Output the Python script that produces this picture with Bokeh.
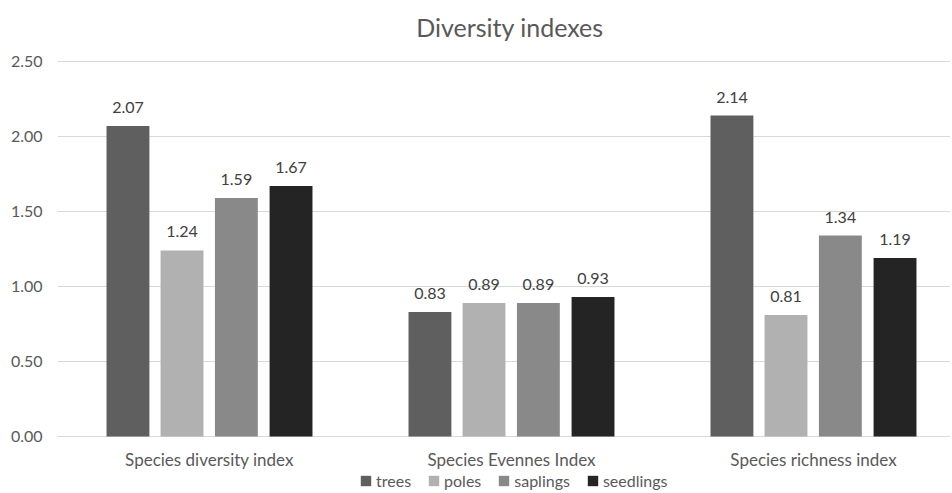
from bokeh.plotting import figure
from bokeh.models import (ColumnDataSource, Range1d, FixedTicker, Legend, LegendItem,
                          LabelSet, Label, NumeralTickFormatter)
from bokeh.core.properties import value
from bokeh.embed import file_html
from bokeh.resources import INLINE

# ---- data ----
categories = ["Species diversity index", "Species Evennes Index", "Species richness index"]
series = ["trees", "poles", "saplings", "seedlings"]
trees = [2.07, 0.83, 2.14]
poles = [1.24, 0.89, 0.81]
saplings = [1.59, 0.89, 1.34]
seedlings = [1.67, 0.93, 1.19]
y_ticks = [0.0, 0.5, 1.0, 1.5, 2.0, 2.5]
chart_title = "Diversity indexes"

# ---- style ----
colors = ["#5f5f5f", "#b1b1b1", "#898989", "#242424"]
offsets = [-0.27, -0.091, 0.089, 0.27]
bar_w = 0.142
FONT = "Lato"
TXT = "#595959"

p = figure(width=950, height=491, output_backend="svg", toolbar_location=None,
           x_range=Range1d(-0.5033, 2.4537), y_range=Range1d(-0.3667, 2.9067),
           min_border_left=57, min_border_right=0, min_border_top=0, min_border_bottom=0)
p.outline_line_color = None
p.xgrid.grid_line_color = None
p.ygrid.grid_line_color = "#d9d9d9"
p.ygrid.grid_line_width = 1
p.ygrid.ticker = FixedTicker(ticks=y_ticks)

p.yaxis.ticker = FixedTicker(ticks=y_ticks)
p.yaxis.formatter = NumeralTickFormatter(format="0.00")
p.xaxis.ticker = FixedTicker(ticks=list(range(len(categories))))
p.xaxis.major_label_overrides = {i: c for i, c in enumerate(categories)}
p.xaxis.fixed_location = 0
for ax in (p.xaxis[0], p.yaxis[0]):
    ax.axis_line_color = None
    ax.major_tick_line_color = None
    ax.minor_tick_line_color = None
    ax.major_tick_out = 0
    ax.major_tick_in = 0
    ax.major_label_text_font = FONT
    ax.major_label_text_font_size = "16px"
    ax.major_label_text_color = TXT
p.xaxis.major_label_text_font_size = "17px"
p.yaxis.major_label_standoff = 15
p.xaxis.major_label_standoff = 13

items = []
for name, vals, col, off in zip(series, [trees, poles, saplings, seedlings], colors, offsets):
    src = ColumnDataSource(dict(x=[i + off for i in range(len(categories))], top=vals,
                                lbl=["%.2f" % v for v in vals]))
    r = p.vbar(x="x", top="top", bottom=0, width=bar_w, source=src,
               fill_color=col, line_color=None)
    items.append(LegendItem(label=name, renderers=[r]))
    p.add_layout(LabelSet(x="x", y="top", text="lbl", source=src, text_align="center",
                          text_baseline="bottom", y_offset=13, text_font=value(FONT),
                          text_font_size=value("16px"), text_color=value("#404040")))

legend = Legend(items=items, orientation="horizontal", location=(302, 1),
                glyph_width=13, glyph_height=13, label_standoff=4, spacing=16,
                padding=0, margin=0, border_line_color=None, background_fill_alpha=0,
                label_text_font=FONT, label_text_font_size="16px", label_text_color=TXT)
p.add_layout(legend, "center")

p.add_layout(Label(x=0.995, y=2.7267, text=chart_title, text_align="center",
                   text_baseline="middle", text_font=FONT, text_font_size="25px",
                   text_color=TXT))

open("out.html", "w").write(file_html(p, INLINE))
